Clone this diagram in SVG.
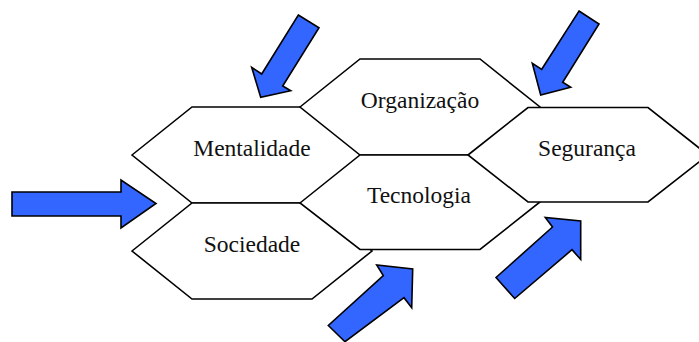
<svg xmlns="http://www.w3.org/2000/svg" width="699" height="342" viewBox="0 0 699 342">
<style>
.hex{fill:#ffffff;stroke:#000000;stroke-width:1.6;stroke-linejoin:miter}
.lbl{font-family:"Liberation Serif","Times New Roman",serif;font-size:23.5px;fill:#111111;text-anchor:middle}
.arr{fill:#3366ff;stroke:#000000;stroke-width:1.6;stroke-linejoin:miter}
</style>
<rect x="0" y="0" width="699" height="342" fill="#ffffff"/>
<g id="mentalidade">
<polygon class="hex" points="132,155 192,107 312,107 372,155 312,203 192,203"/>
<text class="lbl" x="252" y="156">Mentalidade</text>
</g>
<g id="sociedade">
<polygon class="hex" points="132,251 192,203 312,203 372,251 312,299 192,299"/>
<text class="lbl" x="252" y="252">Sociedade</text>
</g>
<g id="organizacao">
<polygon class="hex" points="300,107 360,59 480,59 540,107 480,155 360,155"/>
<text class="lbl" x="420" y="108">Organização</text>
</g>
<g id="tecnologia">
<polygon class="hex" points="300,203 360,155 480,155 540,202 480,249.5 360,249.5"/>
<text class="lbl" x="419" y="203">Tecnologia</text>
</g>
<g id="seguranca">
<polygon class="hex" points="468,155 528,107.5 648,107.5 708,155 648,202 528,202"/>
<text class="lbl" x="587" y="156">Segurança</text>
</g>
<g id="connectors">
<polygon class="arr" points="12,192 121,192 121,180 156,203.5 121,228 121,216 12,216"/>
<polygon class="arr" points="298.3,15 319,27.7 282.7,86 290.7,90.7 260.7,97.3 251.7,67.3 261.7,74"/>
<polygon class="arr" points="579,11 599,24 562.7,82.3 570.7,87.3 540.7,95 532.3,63.3 541.7,69.3"/>
<polygon class="arr" points="328.3,325.5 345,341.7 404,297.7 411.7,307.7 412.7,269 376.7,265 383.3,275.7"/>
<polygon class="arr" points="496,277.5 514.7,298.5 572,249.7 580.7,259.5 580.7,221 545.3,217.5 552.5,227"/>
</g>
</svg>
